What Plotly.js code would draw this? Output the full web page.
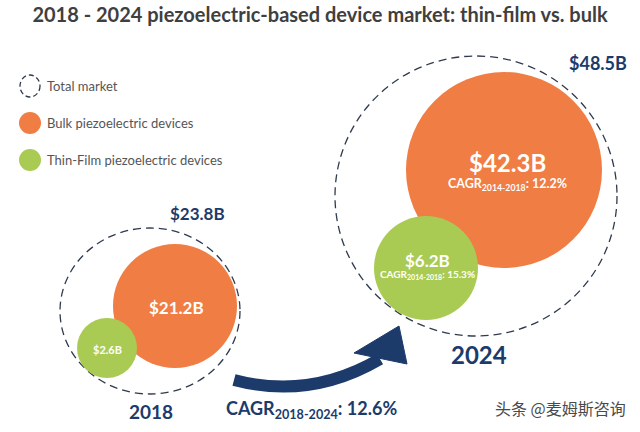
<!DOCTYPE html>
<html>
<head>
<meta charset="utf-8">
<script src="https://cdn.plot.ly/plotly-3.0.1.min.js"></script>
<style>html,body{margin:0;padding:0;background:#fff;}#chart{width:640px;height:432px;}</style>
</head>
<body>
<div id="chart"></div>
<script>
// ---- data ----
const years = ['2018', '2024'];
const totalMarket = [23.8, 48.5];      // $B
const bulkDevices = [21.2, 42.3];      // $B
const thinFilmDevices = [2.6, 6.2];    // $B
const cagrBulk = 12.2;                 // CAGR 2014-2018 shown in 2024 bubble
const cagrThin = 15.3;
const cagrTotal = 12.6;                // CAGR 2018-2024
const legendLabels = ['Total market', 'Bulk piezoelectric devices', 'Thin-Film piezoelectric devices'];

// ---- layout geometry (pixel space) ----
const geo = [
  { total: {cx:150, cy:311, rx:90, ry:83}, bulk: {cx:175, cy:306, r:62}, thin: {cx:107, cy:348, r:30},
    totalLbl: {x:197, y:213, size:17}, bulkLbl: {x:176, y:307, size:17}, thinLbl: {x:107, y:349, size:11},
    yearLbl: {x:151, y:411, size:19} },
  { total: {cx:476, cy:196, rx:141, ry:140}, bulk: {cx:504, cy:170, r:98}, thin: {cx:426, cy:268, r:52},
    totalLbl: {x:598, y:63, size:18}, bulkLbl: {x:507, y:162, size:24}, thinLbl: {x:427, y:260, size:17},
    yearLbl: {x:479, y:354, size:24} }
];
const C = { bulk:'#F07D43', thin:'#A9CB54', navy:'#1C3B6B', dash:'#2E3A4E', text:'#555555', title:'#3f3f3f' };
const FONT = 'Lato, "Open Sans", sans-serif';

const shapes = [];
const annotations = [];
function circ(cx, cy, rx, ry, fill, line) {
  shapes.push(Object.assign({type:'circle', xref:'x', yref:'y', x0:cx-rx, x1:cx+rx, y0:cy-ry, y1:cy+ry,
    fillcolor: fill || 'rgba(0,0,0,0)', line: line || {width:0}, layer:'above'}));
}
function txt(x, y, text, size, color, opts) {
  annotations.push(Object.assign({x:x, y:y, xref:'x', yref:'y', text:text, showarrow:false,
    font:{family:FONT, size:size, color:color, weight:700}, xanchor:'center', yanchor:'middle'}, opts || {}));
}

years.forEach(function (yr, i) {
  const g = geo[i];
  circ(g.total.cx, g.total.cy, g.total.rx, g.total.ry, null, {color:C.dash, width:1.3, dash:'8px,5px'});
  circ(g.bulk.cx, g.bulk.cy, g.bulk.r, g.bulk.r, C.bulk);
  circ(g.thin.cx, g.thin.cy, g.thin.r, g.thin.r, C.thin);
  txt(g.totalLbl.x, g.totalLbl.y, '$' + totalMarket[i].toFixed(1) + 'B', g.totalLbl.size, C.navy);
  txt(g.bulkLbl.x, g.bulkLbl.y, '$' + bulkDevices[i].toFixed(1) + 'B', g.bulkLbl.size, '#ffffff');
  txt(g.thinLbl.x, g.thinLbl.y, '$' + thinFilmDevices[i].toFixed(1) + 'B', g.thinLbl.size, '#ffffff');
  txt(g.yearLbl.x, g.yearLbl.y, yr, g.yearLbl.size, C.navy);
});
// CAGR texts inside 2024 bubbles
txt(507, 184, 'CAGR<sub>2014-2018</sub>: ' + cagrBulk.toFixed(1) + '%', 12.5, '#ffffff');
txt(427, 274, 'CAGR<sub>2014-2018</sub>: ' + cagrThin.toFixed(1) + '%', 10, '#ffffff');
// CAGR overall
txt(311, 409, 'CAGR<sub>2018-2024</sub>: ' + cagrTotal.toFixed(1) + '%', 18, C.navy);

// arrow
shapes.push({type:'path', xref:'x', yref:'y', path:'M 234 380 Q 310 400 380 359', line:{color:C.navy, width:12}, layer:'above'});
shapes.push({type:'path', xref:'x', yref:'y', path:'M 354 353 L 399 326 L 407 364 Z', fillcolor:C.navy, line:{color:C.navy, width:1}, layer:'above'});

// legend
const legY = [86, 123, 160];
circ(30, legY[0], 10, 11, null, {color:C.dash, width:1.3, dash:'5px,3px'});
circ(30, legY[1], 11, 11, C.bulk);
circ(30, legY[2], 11, 11, C.thin);
legendLabels.forEach(function (l, k) {
  annotations.push({x:45, y:legY[k], xref:'x', yref:'y', text:l, showarrow:false, xanchor:'left', yanchor:'middle',
    font:{family:FONT, size:13, color:C.text}});
});

// watermark
annotations.push({x:560, y:408, xref:'x', yref:'y', text:'头条 @麦姆斯咨询', showarrow:false, xanchor:'center', yanchor:'middle',
  font:{family:'"Noto Sans CJK SC", sans-serif', size:16, color:'#4a4a4a'}});

const layout = {
  width:640, height:432, margin:{l:0, r:0, t:0, b:0},
  paper_bgcolor:'#ffffff', plot_bgcolor:'#ffffff',
  title:{text:'2018 - 2024 piezoelectric-based device market: thin-film vs. bulk', x:0.5, xanchor:'center', y:0.965, yanchor:'middle',
    font:{family:FONT, size:20, color:C.title, weight:700}},
  xaxis:{range:[0,640], visible:false, fixedrange:true},
  yaxis:{range:[432,0], visible:false, fixedrange:true},
  showlegend:false,
  shapes:shapes, annotations:annotations
};
Plotly.newPlot('chart', [], layout, {displayModeBar:false, staticPlot:true});
</script>
</body>
</html>
